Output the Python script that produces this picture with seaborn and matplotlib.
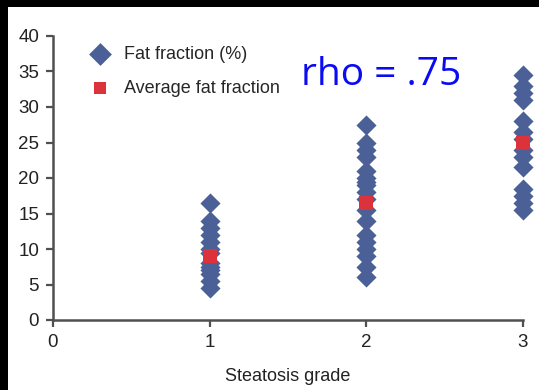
import numpy as np
import pandas as pd
import matplotlib
matplotlib.use("Agg")
import matplotlib.pyplot as plt
from matplotlib.patches import Rectangle
import seaborn as sns

# fat fraction (%) per steatosis grade
grade_1 = [16.5, 14.0, 13.0, 12.0, 11.0, 10.0, 9.5, 8.0, 7.5, 7.0, 6.5, 5.5, 4.5]
grade_2 = [27.5, 25.0, 24.0, 23.0, 21.0, 20.0, 19.5, 19.0, 18.0, 17.0, 15.5,
           14.0, 12.0, 11.0, 10.0, 9.0, 7.5, 6.0]
grade_3 = [34.5, 33.0, 32.0, 31.0, 28.0, 26.5, 25.5, 24.0, 23.0, 21.5,
           18.5, 17.5, 16.5, 15.5]
grades = [1, 2, 3]
average_ff = [9.0, 16.5, 25.0]
x_ticks = [0, 1, 2, 3]
y_ticks = [0, 5, 10, 15, 20, 25, 30, 35, 40]
rho_label = "rho = .75"

sns.set_theme(style="ticks")
plt.rcParams["font.family"] = ["Liberation Sans", "DejaVu Sans"]

points = pd.DataFrame({
    "grade": [1] * len(grade_1) + [2] * len(grade_2) + [3] * len(grade_3),
    "ff": grade_1 + grade_2 + grade_3,
})
means = pd.DataFrame({"grade": grades, "ff": average_ff})

blue = "#4a6096"
red = "#dc323c"
axis_col = "#505050"

fig = plt.figure(figsize=(5.39, 3.9), dpi=100)
fig.patch.set_facecolor("black")
fig.add_artist(Rectangle((8 / 539, 0), 1, 1 - 7 / 390, transform=fig.transFigure,
                         facecolor="white", edgecolor="none", zorder=-10))

ax = fig.add_axes([53 / 539, 1 - 320 / 390, 470 / 539, 284 / 390])
ax.set_facecolor("none")

sns.scatterplot(data=points, x="grade", y="ff", ax=ax, marker="D", s=105,
                color=blue, linewidth=0, label="Fat fraction (%)",
                clip_on=False, zorder=3)
sns.scatterplot(data=means, x="grade", y="ff", ax=ax, marker="s", s=95,
                color=red, linewidth=0, label="Average fat fraction",
                clip_on=False, zorder=4)

ax.set_xlim(0, 3)
ax.set_ylim(0, 40)
ax.set_xticks(x_ticks)
ax.set_yticks(y_ticks)
ax.set_xlabel("Steatosis grade", fontsize=13, color="#222222", labelpad=12)
ax.set_ylabel("")
ax.tick_params(axis="both", labelsize=13.5, colors=axis_col, labelcolor="#222222",
               length=5, width=1.6, pad=5)
sns.despine(ax=ax)
for side in ["left", "bottom"]:
    ax.spines[side].set_color(axis_col)
    ax.spines[side].set_linewidth(1.8)

leg = ax.legend(loc="upper left", bbox_to_anchor=(82 / 539, 1 - 46 / 390),
                bbox_transform=fig.transFigure, frameon=False, fontsize=13,
                handletextpad=0.3, labelspacing=0.95, borderpad=0, borderaxespad=0)
leg.legend_handles[0].set_sizes([135])
leg.legend_handles[1].set_sizes([75])

fig.text(381 / 539, 1 - 85 / 390, rho_label, color="#0a0af5", fontsize=28,
         family=["Open Sans", "DejaVu Sans"], ha="center", va="baseline")

fig.savefig("out.png", dpi=100, facecolor=fig.get_facecolor())
